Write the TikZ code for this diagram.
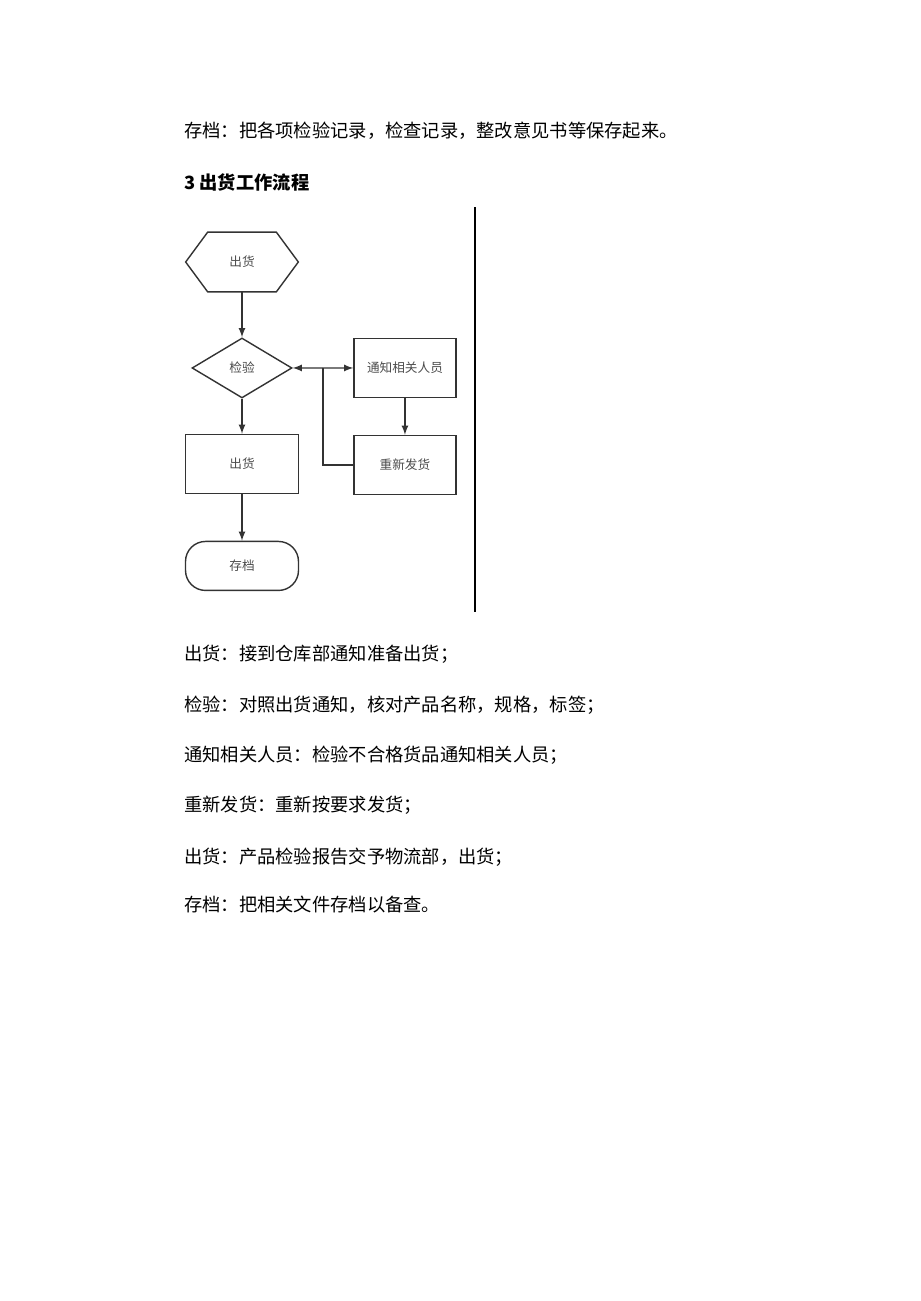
\documentclass[tikz,border=0pt]{standalone}
\usepackage{fontspec}
\setmainfont{Noto Sans CJK SC}
\usetikzlibrary{shapes.geometric, arrows, calc}
\tikzstyle{startstop} = [rectangle, rounded corners=0.4cm, minimum width=2.26cm, minimum height=0.98cm, text centered, draw=black!80, line width=0.8pt, font=\fontsize{7.2pt}{8pt}\selectfont, text=black!70]
\tikzstyle{decision} = [diamond, minimum width=2cm, minimum height=1.2cm, inner sep=0pt, text centered, draw=black!80, line width=0.8pt, font=\fontsize{7.2pt}{8pt}\selectfont, text=black!70]
\tikzstyle{process} = [rectangle, minimum width=2.04cm, minimum height=1.18cm, text centered, draw=black!80, line width=0.8pt, font=\fontsize{7.2pt}{8pt}\selectfont, text=black!70]
\tikzstyle{hexa} = [rectangle, minimum width=2.24cm, minimum height=1.18cm, text centered, font=\fontsize{7.2pt}{8pt}\selectfont, text=black!70]
\tikzstyle{arrow} = [line width=0.8pt, draw=black!80, ->, >=latex]
\tikzstyle{para} = [anchor=west, inner sep=0pt, font=\fontsize{10.4pt}{12pt}\selectfont]
\begin{document}
\begin{tikzpicture}[x=0.02cm, y=-0.02cm, node distance=2cm]
	\useasboundingbox[fill=white] (0,0) rectangle (920,1301);
	%----------------------------------------------------%
	\node(note0) [para] at (184,131) {存档：把各项检验记录，检查记录，整改意见书等保存起来。};
	\node(title) [para, font=\fontsize{10.4pt}{12pt}\selectfont\bfseries] at (184,182) {3 出货工作流程};
	%----------------------------------------------------%
	\node(start) [hexa] at (242,262) {出货};
	\draw[line width=0.8pt, draw=black!80] ([xshift=0.44cm]start.north west) -- ([xshift=-0.44cm]start.north east) -- (start.east) -- ([xshift=-0.44cm]start.south east) -- ([xshift=0.44cm]start.south west) -- (start.west) -- cycle;
	\node(check) [decision, below of=start, yshift=-0.12cm] {检验};
	\node(ship) [process, minimum width=2.26cm, below of=check, yshift=0.08cm] {出货};
	\node(archive) [startstop, below of=ship, yshift=-0.04cm] {存档};
	
	\node(notify) [process, right of=check, xshift=1.26cm] {通知相关人员};
	\node(resend) [process, below of=notify, yshift=0.06cm] {重新发货};
	\coordinate (jn) at ($(check.east)!0.5!(notify.west)$);
	
	\draw[arrow] (start) -- (check);
	\draw[arrow] (check) -- (ship);
	\draw[arrow] (ship) -- (archive);
	\draw[arrow] (jn) -- (check.east);
	\draw[arrow] (jn) -- (notify.west);
	\draw[arrow] (notify) -- (resend);
	\draw[line width=0.8pt, draw=black!80] (resend.west) -| (jn);
	%----------------------------------------------------%
	\coordinate (septop) at (475,207);
	\coordinate (sepbot) at (475,612);
	\draw[line width=1.2pt] (septop) -- (sepbot);
	%----------------------------------------------------%
	\node(note1) [para] at (184,654) {出货：接到仓库部通知准备出货；};
	\node(note2) [para] at (184,705) {检验：对照出货通知，核对产品名称，规格，标签；};
	\node(note3) [para] at (184,755) {通知相关人员：检验不合格货品通知相关人员；};
	\node(note4) [para] at (184,805) {重新发货：重新按要求发货；};
	\node(note5) [para] at (184,857) {出货：产品检验报告交予物流部，出货；};
	\node(note6) [para] at (184,905) {存档：把相关文件存档以备查。};
\end{tikzpicture}
\end{document}
